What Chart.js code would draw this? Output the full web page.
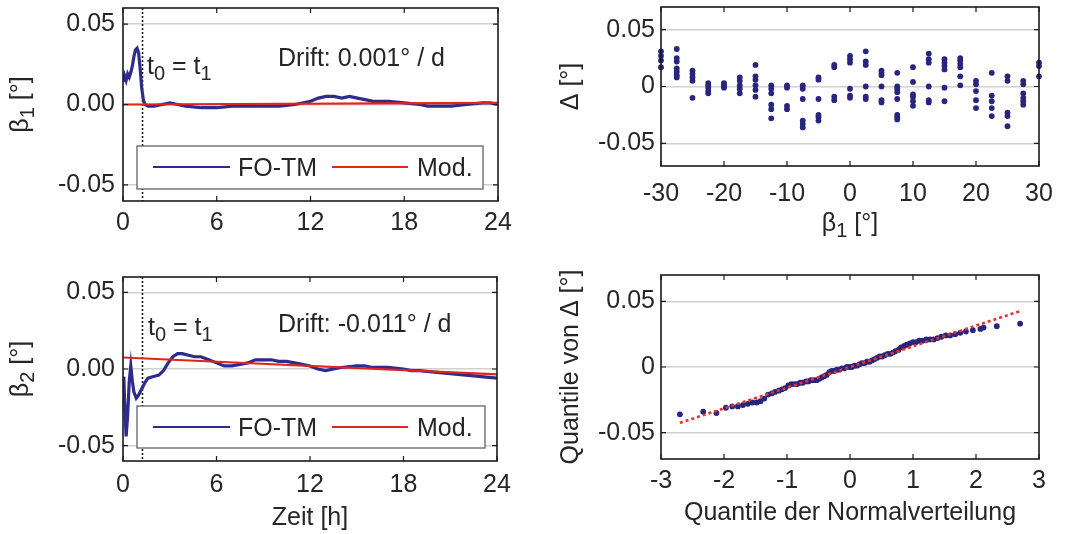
<!DOCTYPE html>
<html>
<head>
<meta charset="utf-8">
<script src="https://cdn.jsdelivr.net/npm/chart.js@4.4.0/dist/chart.umd.min.js"></script>
<style>
  body { margin: 0; background: #fff; }
  #wrap { position: relative; width: 1092px; height: 534px; overflow: hidden; }
  canvas { position: absolute; }
</style>
</head>
<body>
<div id="wrap">
  <canvas id="c1" width="540" height="260" style="left:0;top:0"></canvas>
  <canvas id="c2" width="540" height="274" style="left:0;top:260px"></canvas>
  <canvas id="c3" width="552" height="260" style="left:540px;top:0"></canvas>
  <canvas id="c4" width="552" height="274" style="left:540px;top:260px"></canvas>
</div>
<script>
const FONT = '"Liberation Sans", Arial, Helvetica, sans-serif';
const TXT = '#262626';
const BLUE = '#2d2b8c';
const RED = '#e3241c';
const DOT = '#28257e';

// beta1 over 24 h (FO-TM) and the drift model
const time1 = [0, 0.1, 0.2, 0.3, 0.4, 0.5, 0.6, 0.7, 0.8, 0.9, 1.0, 1.1, 1.2, 1.3, 1.4, 1.6, 2.0, 2.5, 3.0, 3.5, 4.0,
  5.0, 5.5, 6.0, 7.0, 8.0, 9.0, 10.0, 11.0, 12.0, 12.5, 13.0, 13.5, 14.0, 14.5, 15.0, 15.5, 16.0, 17.0, 18.0,
  19.0, 19.5, 20.0, 21.0, 22.0, 23.0, 23.5, 24.0];
const beta1 = [0.014, 0.018, 0.015, 0.019, 0.017, 0.020, 0.024, 0.030, 0.034, 0.035, 0.032, 0.022, 0.010, 0.003, 0.000,
  -0.001, -0.001, 0.000, 0.001, 0.000, -0.001, -0.002, -0.002, -0.002, -0.001, -0.001, -0.001, -0.001, 0.000,
  0.002, 0.004, 0.005, 0.005, 0.004, 0.005, 0.004, 0.003, 0.002, 0.002, 0.001, 0.000, -0.001, -0.001, -0.001,
  0.000, 0.001, 0.001, 0.000];
const modTime = [0, 24];
const mod1 = [0.0, 0.001];

// beta2 over 24 h (FO-TM) and the drift model
const time2 = [0, 0.05, 0.1, 0.2, 0.3, 0.4, 0.5, 0.6, 0.7, 0.85, 1.0, 1.2, 1.4, 1.6, 1.9, 2.3, 2.6, 2.9, 3.2, 3.5,
  3.8, 4.2, 4.6, 5.0, 5.5, 6.0, 6.5, 7.0, 7.5, 8.0, 8.5, 9.0, 9.5, 10.0, 10.5, 11.0, 11.5, 12.0, 12.5, 13.0,
  13.5, 14.0, 15.0, 15.5, 16.0, 17.0, 18.0, 18.5, 19.0, 20.0, 21.0, 22.0, 23.0, 24.0];
const beta2 = [-0.010, -0.005, -0.020, -0.044, -0.030, -0.008, 0.002, -0.008, -0.015, -0.019, -0.017, -0.013, -0.009,
  -0.006, -0.005, -0.004, -0.001, 0.004, 0.008, 0.010, 0.010, 0.009, 0.008, 0.008, 0.006, 0.004, 0.002, 0.002,
  0.003, 0.004, 0.006, 0.006, 0.006, 0.005, 0.005, 0.004, 0.003, 0.002, 0.000, -0.001, 0.000, 0.001, 0.002,
  0.002, 0.001, 0.001, 0.000, -0.001, -0.001, -0.002, -0.003, -0.004, -0.005, -0.006];
const mod2 = [0.0075, -0.0035];
const t0Line = 1.25;

// residuals vs. beta1
const betaCols = [-30, -27.5, -25, -22.5, -20, -17.5, -15, -12.5, -10, -7.5, -5, -2.5, 0, 2.5, 5, 7.5, 10, 12.5, 15,
  17.5, 20, 22.5, 25, 27.5, 30];
const deltaCols = [
  [0.031, 0.027, 0.023, 0.017],
  [0.033, 0.025, 0.022, 0.016, 0.013, 0.010, 0.008],
  [0.014, 0.011, 0.008, 0.005, -0.010],
  [0.003, 0.001, -0.001, -0.004, -0.006],
  [0.003, 0.002, 0.000, -0.001],
  [0.008, 0.005, 0.001, -0.002, -0.006],
  [0.019, 0.009, 0.006, 0.001, -0.003, -0.009],
  [0.001, -0.002, -0.006, -0.016, -0.020, -0.028],
  [0.001, -0.001, -0.017, -0.020],
  [0.001, -0.002, -0.011, -0.030, -0.033, -0.036],
  [0.008, 0.006, -0.011, -0.025, -0.027, -0.030],
  [0.019, 0.017, -0.009, -0.012],
  [0.027, 0.024, 0.021, -0.002, -0.008, -0.010],
  [0.031, 0.022, 0.019, 0.000, -0.009, -0.011],
  [0.014, 0.012, 0.010, 0.000, -0.012, -0.014],
  [0.012, 0.000, -0.002, -0.005, -0.011, -0.025, -0.027, -0.029],
  [0.017, 0.004, -0.007, -0.009, -0.013, -0.017],
  [0.029, 0.024, 0.021, 0.000, -0.012, -0.014],
  [0.024, 0.021, 0.018, 0.015, -0.001, -0.013],
  [0.025, 0.023, 0.020, 0.017, 0.009, 0.001],
  [0.005, 0.002, -0.004, -0.012, -0.019],
  [0.012, -0.008, -0.013, -0.019, -0.026],
  [0.009, 0.005, -0.023, -0.026, -0.035],
  [0.005, 0.002, -0.006, -0.010, -0.013, -0.016],
  [0.021, 0.018, 0.009]
];

// Q-Q plot of the residuals
const qqX = [-2.70, -2.33, -2.12, -1.97, -1.87, -1.78, -1.70, -1.62, -1.55, -1.48, -1.42, -1.36, -1.30, -1.24, -1.19,
  -1.13, -1.08, -1.03, -0.98, -0.93, -0.88, -0.84, -0.79, -0.75, -0.70, -0.66, -0.62, -0.57, -0.53, -0.49, -0.45,
  -0.41, -0.37, -0.33, -0.29, -0.25, -0.21, -0.17, -0.13, -0.09, -0.05, -0.01, 0.03, 0.07, 0.11, 0.15, 0.19, 0.23,
  0.27, 0.31, 0.35, 0.39, 0.43, 0.47, 0.51, 0.55, 0.60, 0.64, 0.68, 0.72, 0.77, 0.81, 0.86, 0.90, 0.95, 1.00, 1.05,
  1.10, 1.15, 1.21, 1.27, 1.33, 1.39, 1.45, 1.52, 1.59, 1.67, 1.75, 1.84, 1.95, 2.07, 2.12, 2.33, 2.70];
const qqY = [-0.036, -0.034, -0.035, -0.031, -0.030, -0.030, -0.029, -0.028, -0.027, -0.027, -0.026, -0.024, -0.021,
  -0.020, -0.019, -0.018, -0.017, -0.016, -0.014, -0.013, -0.013, -0.013, -0.012, -0.012, -0.011, -0.011, -0.010,
  -0.010, -0.010, -0.009, -0.008, -0.007, -0.006, -0.004, -0.003, -0.003, -0.002, -0.002, -0.001, -0.001, 0.000,
  0.000, 0.000, 0.001, 0.001, 0.002, 0.003, 0.003, 0.004, 0.004, 0.005, 0.006, 0.007, 0.008, 0.008, 0.009, 0.010,
  0.010, 0.011, 0.012, 0.013, 0.015, 0.016, 0.017, 0.018, 0.019, 0.019, 0.020, 0.020, 0.021, 0.021, 0.021, 0.022,
  0.023, 0.024, 0.024, 0.025, 0.026, 0.027, 0.028, 0.029, 0.030, 0.031, 0.033];
const fitX = [-2.7, 2.7];
const fitY = [-0.0425, 0.0425];

// ticks
const timeTicks = [0, 6, 12, 18, 24];
const betaTicks = [-30, -20, -10, 0, 10, 20, 30];
const qTicks = [-3, -2, -1, 0, 1, 2, 3];
const yTicks = [-0.05, 0, 0.05];
const leftYLabels = ['-0.05', '0.00', '0.05'];
const rightYLabels = ['-0.05', '0', '0.05'];

const pts = (xs, ys) => xs.map((x, i) => ({ x, y: ys[i] }));

Chart.defaults.font.family = FONT;
Chart.defaults.color = TXT;

function zeroPad(s) { s.paddingLeft = s.paddingRight = s.paddingTop = s.paddingBottom = 0; }

function axes(o) {
  const font = { family: FONT, size: 25 };
  return {
    x: {
      type: 'linear', min: o.xmin, max: o.xmax,
      afterBuildTicks: s => { s.ticks = o.xt.map(v => ({ value: v })); },
      afterFit: s => { s.height = o.xh; zeroPad(s); },
      grid: { display: false, drawTicks: false },
      border: { display: false },
      ticks: { padding: o.xpad, color: TXT, font, maxRotation: 0, autoSkip: false, callback: v => String(v) }
    },
    y: {
      type: 'linear', min: o.ymin, max: o.ymax,
      afterBuildTicks: s => { s.ticks = yTicks.map(v => ({ value: v })); },
      afterFit: s => { s.width = o.yw; zeroPad(s); },
      grid: { color: '#d0d0d0', lineWidth: 1.5, drawTicks: false },
      border: { display: false },
      ticks: { padding: o.ypad, color: TXT, font, autoSkip: false, callback: (v, i) => o.yl[i] }
    }
  };
}

function options(o) {
  return {
    responsive: false, animation: false, events: [],
    layout: { padding: { left: 0, top: o.top, right: o.right, bottom: 0 } },
    plugins: { legend: { display: false }, tooltip: { enabled: false } },
    scales: axes(o)
  };
}

// text with subscripts: parts = [[text, isSub], ...]
function rich(ctx, parts, x, y, center) {
  const big = '25px ' + FONT, small = '20px ' + FONT;
  let w = 0;
  parts.forEach(p => { ctx.font = p[1] ? small : big; w += ctx.measureText(p[0]).width; });
  let cx = center ? x - w / 2 : x;
  ctx.fillStyle = TXT;
  ctx.textAlign = 'left';
  ctx.textBaseline = 'alphabetic';
  parts.forEach(p => {
    ctx.font = p[1] ? small : big;
    ctx.fillText(p[0], cx, p[1] ? y + 6 : y);
    cx += ctx.measureText(p[0]).width;
  });
}

const deco = {
  c1: {
    vline: t0Line, legend: { x: 137, y: 146, w: 346, h: 43 },
    ytitle: { parts: [['β'], ['1', 1], [' [°]']], x: 28 },
    texts: [
      { parts: [['t'], ['0', 1], [' = t'], ['1', 1]], x: 147, y: 74 },
      { parts: [['Drift: 0.001° / d']], x: 278, y: 66 }
    ]
  },
  c2: {
    vline: t0Line, legend: { x: 137, y: 146, w: 348, h: 42 },
    ytitle: { parts: [['β'], ['2', 1], [' [°]']], x: 28 },
    xtitle: { parts: [['Zeit [h]']], y: 265 },
    texts: [
      { parts: [['t'], ['0', 1], [' = t'], ['1', 1]], x: 148, y: 75 },
      { parts: [['Drift: -0.011° / d']], x: 278, y: 72 }
    ]
  },
  c3: {
    ytitle: { parts: [['Δ [°]']], x: 38 },
    xtitle: { parts: [['β'], ['1', 1], [' [°]']], y: 231 }
  },
  c4: {
    ytitle: { parts: [['Quantile von Δ [°]']], x: 38 },
    xtitle: { parts: [['Quantile der Normalverteilung']], y: 260 }
  }
};

const decoPlugin = {
  id: 'deco',
  beforeDatasetsDraw(chart) {
    const d = deco[chart.canvas.id], a = chart.chartArea, ctx = chart.ctx;
    if (d.vline == null) return;
    const px = chart.scales.x.getPixelForValue(d.vline);
    ctx.save();
    ctx.strokeStyle = '#111';
    ctx.lineWidth = 1.5;
    ctx.setLineDash([2, 2]);
    ctx.beginPath(); ctx.moveTo(px, a.top); ctx.lineTo(px, a.bottom); ctx.stroke();
    ctx.restore();
  },
  afterDatasetsDraw(chart) {
    const d = deco[chart.canvas.id], a = chart.chartArea, ctx = chart.ctx;
    ctx.save();
    if (d.legend) {
      const L = d.legend;
      ctx.fillStyle = '#fff';
      ctx.fillRect(L.x, L.y, L.w, L.h);
      ctx.strokeStyle = '#555'; ctx.lineWidth = 1.2;
      ctx.strokeRect(L.x, L.y, L.w, L.h);
      const ly = L.y + 21;
      ctx.lineWidth = 2.2;
      ctx.strokeStyle = BLUE;
      ctx.beginPath(); ctx.moveTo(L.x + 16, ly); ctx.lineTo(L.x + 93, ly); ctx.stroke();
      ctx.strokeStyle = RED;
      ctx.beginPath(); ctx.moveTo(L.x + 195, ly); ctx.lineTo(L.x + 271, ly); ctx.stroke();
      rich(ctx, [['FO-TM']], L.x + 101, L.y + 30);
      rich(ctx, [['Mod.']], L.x + 280, L.y + 30);
    }
    // axes box
    ctx.strokeStyle = '#1a1a1a'; ctx.lineWidth = 1.6;
    ctx.strokeRect(a.left, a.top, a.right - a.left, a.bottom - a.top);
    // inward ticks on all four sides
    ctx.lineWidth = 1.2;
    const tl = 5;
    chart.scales.x.ticks.forEach(t => {
      const px = chart.scales.x.getPixelForValue(t.value);
      ctx.beginPath();
      ctx.moveTo(px, a.bottom); ctx.lineTo(px, a.bottom - tl);
      ctx.moveTo(px, a.top); ctx.lineTo(px, a.top + tl);
      ctx.stroke();
    });
    chart.scales.y.ticks.forEach(t => {
      const py = chart.scales.y.getPixelForValue(t.value);
      ctx.beginPath();
      ctx.moveTo(a.left, py); ctx.lineTo(a.left + tl, py);
      ctx.moveTo(a.right, py); ctx.lineTo(a.right - tl, py);
      ctx.stroke();
    });
    (d.texts || []).forEach(t => rich(ctx, t.parts, t.x, t.y));
    if (d.xtitle) rich(ctx, d.xtitle.parts, (a.left + a.right) / 2, d.xtitle.y, true);
    if (d.ytitle) {
      ctx.save();
      ctx.translate(d.ytitle.x, (a.top + a.bottom) / 2);
      ctx.rotate(-Math.PI / 2);
      rich(ctx, d.ytitle.parts, 0, 0, true);
      ctx.restore();
    }
    ctx.restore();
  }
};

function lineSet(data, color, width) {
  return { data, showLine: true, borderColor: color, borderWidth: width, pointRadius: 0, tension: 0, fill: false };
}

new Chart(document.getElementById('c1'), {
  type: 'scatter',
  data: { datasets: [
    lineSet(pts(modTime, mod1), RED, 2.2),
    lineSet(pts(time1, beta1), BLUE, 3.2)
  ] },
  options: options({ xmin: 0, xmax: 24, ymin: -0.06, ymax: 0.06, xt: timeTicks, yl: leftYLabels,
    top: 8, right: 42, yw: 123, xh: 59, xpad: 7, ypad: 8 }),
  plugins: [decoPlugin]
});

new Chart(document.getElementById('c2'), {
  type: 'scatter',
  data: { datasets: [
    lineSet(pts(modTime, mod2), RED, 2.2),
    lineSet(pts(time2, beta2), BLUE, 3.2)
  ] },
  options: options({ xmin: 0, xmax: 24, ymin: -0.06, ymax: 0.06, xt: timeTicks, yl: leftYLabels,
    top: 17, right: 43, yw: 123, xh: 73, xpad: 9, ypad: 8 }),
  plugins: [decoPlugin]
});

const scatterPts = [];
betaCols.forEach((b, i) => deltaCols[i].forEach(v => scatterPts.push({ x: b, y: v })));

new Chart(document.getElementById('c3'), {
  type: 'scatter',
  data: { datasets: [
    { data: scatterPts, pointRadius: 2.9, pointBackgroundColor: DOT, pointBorderWidth: 0, clip: false }
  ] },
  options: options({ xmin: -30, xmax: 30, ymin: -0.07, ymax: 0.07, xt: betaTicks, yl: rightYLabels,
    top: 7, right: 53, yw: 121, xh: 94, xpad: 13, ypad: 6 }),
  plugins: [decoPlugin]
});

new Chart(document.getElementById('c4'), {
  type: 'scatter',
  data: { datasets: [
    { data: pts(fitX, fitY), showLine: true, borderColor: '#e8322a', borderWidth: 2.6, borderDash: [3, 3],
      pointRadius: 0, fill: false },
    { data: pts(qqX, qqY), pointRadius: 2.9, pointBackgroundColor: DOT, pointBorderWidth: 0 }
  ] },
  options: options({ xmin: -3, xmax: 3, ymin: -0.07, ymax: 0.07, xt: qTicks, yl: rightYLabels,
    top: 15, right: 53, yw: 121, xh: 75, xpad: 7, ypad: 6 }),
  plugins: [decoPlugin]
});
</script>
</body>
</html>
